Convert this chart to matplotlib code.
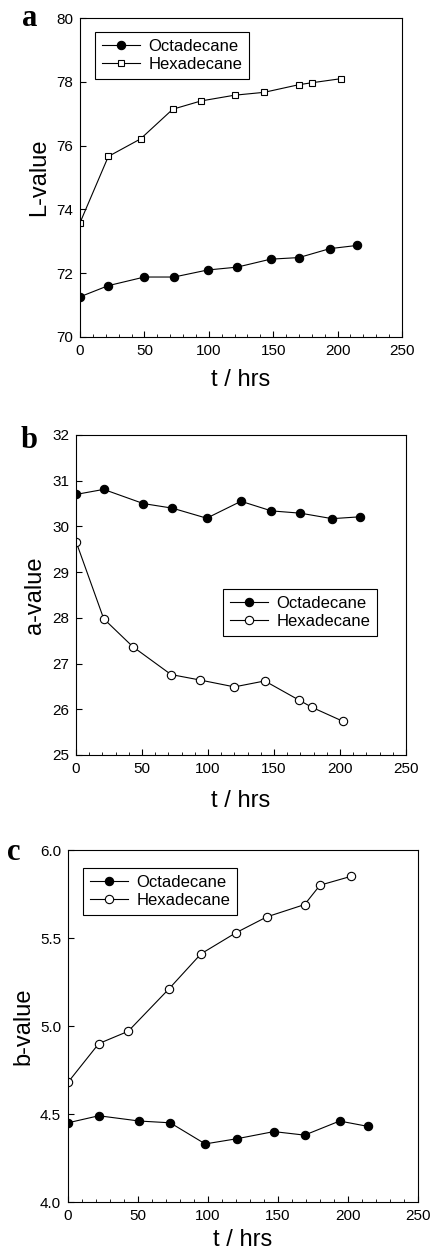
import matplotlib
matplotlib.use('Agg')
import matplotlib.pyplot as plt
from matplotlib.ticker import MultipleLocator

plt.rcParams['font.family'] = ['Liberation Sans', 'DejaVu Sans']

# panel a: L-value
t_oct_a = [0, 22, 50, 73, 99, 122, 148, 170, 194, 215]
l_oct = [71.26, 71.61, 71.88, 71.88, 72.10, 72.19, 72.44, 72.49, 72.77, 72.87]
t_hex_a = [0, 22, 47, 72, 94, 120, 143, 170, 180, 203]
l_hex = [73.58, 75.66, 76.21, 77.14, 77.40, 77.58, 77.67, 77.91, 77.97, 78.10]

# panel b: a-value
t_oct_b = [0, 21, 51, 73, 99, 125, 148, 170, 194, 215]
a_oct = [30.70, 30.81, 30.50, 30.40, 30.18, 30.55, 30.34, 30.29, 30.17, 30.21]
t_hex_b = [0, 21, 43, 72, 94, 120, 143, 169, 179, 202]
a_hex = [29.67, 27.98, 27.37, 26.76, 26.64, 26.49, 26.62, 26.20, 26.04, 25.74]

# panel c: b-value
t_oct_c = [0, 22, 51, 73, 98, 121, 147, 169, 194, 214]
b_oct = [4.45, 4.49, 4.46, 4.45, 4.33, 4.36, 4.40, 4.38, 4.46, 4.43]
t_hex_c = [0, 22, 43, 72, 95, 120, 142, 169, 180, 202]
b_hex = [4.68, 4.90, 4.97, 5.21, 5.41, 5.53, 5.62, 5.69, 5.80, 5.85]

W, H = 433, 1258
fig = plt.figure(figsize=(W / 100, H / 100), dpi=100)


def _axes(left, right, top, bottom):
    return fig.add_axes([left / W, 1 - bottom / H, (right - left) / W, (bottom - top) / H])


def _style(ax, ylim, ystep, ylabel, xpad, yfmt=None):
    ax.set_xlim(0, 250)
    ax.set_ylim(*ylim)
    ax.xaxis.set_major_locator(MultipleLocator(50))
    ax.xaxis.set_minor_locator(MultipleLocator(10))
    ax.yaxis.set_major_locator(MultipleLocator(ystep))
    if yfmt:
        ax.yaxis.set_major_formatter(yfmt)
    ax.tick_params(direction='in', which='major', length=4, width=0.8, labelsize=11, pad=5)
    ax.tick_params(direction='in', which='minor', length=2.5, width=0.6)
    for s in ax.spines.values():
        s.set_linewidth(0.8)
    ax.set_xlabel('t / hrs', fontsize=17, labelpad=xpad)
    ax.set_ylabel(ylabel, fontsize=17, labelpad=4)


line_kw = dict(color='black', lw=0.8, mec='black', mew=0.8)


def _legend(ax, x, y):
    leg = ax.legend(loc='upper left', bbox_to_anchor=(x, y), borderaxespad=0, fancybox=False,
                    framealpha=1, edgecolor='black', fontsize=12, handlelength=2.3,
                    handletextpad=0.5, labelspacing=0.2, borderpad=0.4)
    leg.get_frame().set_linewidth(0.8)


serif = ['Liberation Serif', 'DejaVu Serif']

# panel a
ax = _axes(80, 402, 18, 337)
ax.plot(t_oct_a, l_oct, marker='o', ms=6, mfc='black', label='Octadecane', **line_kw)
ax.plot(t_hex_a, l_hex, marker='s', ms=5, mfc='white', label='Hexadecane', **line_kw)
_style(ax, (70, 80), 2, 'L-value', 8)
_legend(ax, 0.047, 0.956)
fig.text(22 / W, 1 - 18 / H, 'a', family=serif, fontweight='bold', fontsize=22, va='center', ha='left')

# panel b
ax = _axes(76, 406, 435, 755)
ax.plot(t_oct_b, a_oct, marker='o', ms=6, mfc='black', label='Octadecane', **line_kw)
ax.plot(t_hex_b, a_hex, marker='o', ms=6, mfc='white', label='Hexadecane', **line_kw)
_style(ax, (25, 32), 1, 'a-value', 10)
_legend(ax, 0.445, 0.519)
fig.text(21 / W, 1 - 440 / H, 'b', family=serif, fontweight='bold', fontsize=22, va='center', ha='left')

# panel c
ax = _axes(68, 418, 850, 1202)
ax.plot(t_oct_c, b_oct, marker='o', ms=6, mfc='black', label='Octadecane', **line_kw)
ax.plot(t_hex_c, b_hex, marker='o', ms=6, mfc='white', label='Hexadecane', **line_kw)
_style(ax, (4.0, 6.0), 0.5, 'b-value', 4, '{x:.1f}')
_legend(ax, 0.043, 0.949)
fig.text(7 / W, 1 - 853 / H, 'c', family=serif, fontweight='bold', fontsize=22, va='center', ha='left')

fig.savefig('out.png', dpi=100)
